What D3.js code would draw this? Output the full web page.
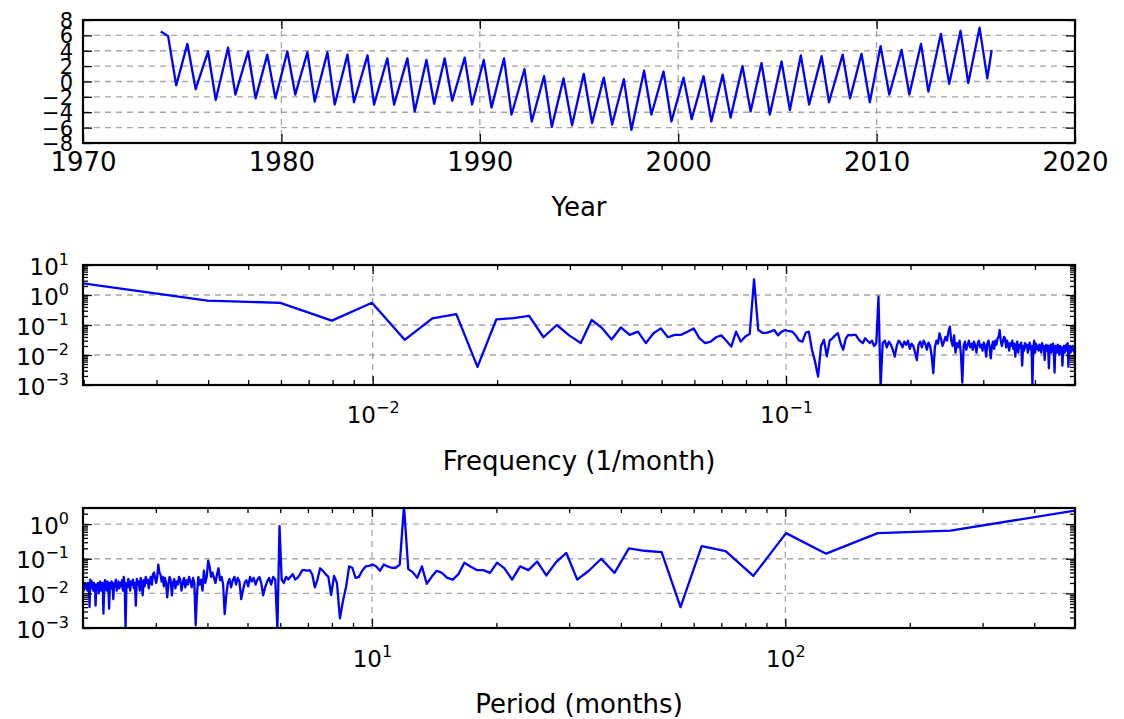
<!DOCTYPE html>
<html><head><meta charset="utf-8">
<script src="https://cdn.jsdelivr.net/npm/d3@7"></script>
<style>
body{margin:0;background:#fff}
svg{display:block}
text{font-family:"DejaVu Sans",sans-serif;fill:#000}
</style>
</head><body>
<svg id="c" width="1124" height="719"></svg>
<script>
// ---------------- data ----------------
const tsYear=[1973.92,1974.29,1974.7,1975.26,1975.68,1976.3,1976.69,1977.31,1977.68,1978.32,1978.7,1979.29,1979.7,1980.3,1980.7,1981.31,1981.68,1982.32,1982.69,1983.33,1983.66,1984.34,1984.67,1985.34,1985.68,1986.35,1986.72,1987.31,1987.7,1988.23,1988.61,1989.24,1989.61,1990.2,1990.59,1991.22,1991.6,1992.25,1992.62,1993.24,1993.63,1994.22,1994.65,1995.24,1995.66,1996.25,1996.67,1997.26,1997.64,1998.28,1998.65,1999.26,1999.66,2000.27,2000.68,2001.28,2001.67,2002.24,2002.64,2003.24,2003.65,2004.2,2004.62,2005.21,2005.63,2006.18,2006.6,2007.23,2007.6,2008.29,2008.66,2009.24,2009.66,2010.2,2010.64,2011.26,2011.65,2012.24,2012.61,2013.24,2013.66,2014.23,2014.62,2015.19,2015.58,2015.8];
const tsValue=[6.5,5.9,-0.5,4.9,-1.0,3.9,-2.4,4.4,-1.7,3.9,-2.2,3.5,-2.2,3.9,-1.7,3.8,-2.6,3.8,-3.0,3.5,-2.7,3.4,-3.0,3.0,-3.0,3.0,-3.9,2.8,-2.9,3.0,-2.5,3.1,-3.0,2.8,-3.4,3.0,-4.3,1.6,-5.2,0.7,-5.9,0.4,-5.7,1.0,-5.4,0.5,-5.6,0.3,-6.3,1.4,-4.3,1.3,-5.2,0.5,-4.9,0.7,-5.2,0.9,-4.7,2.0,-3.9,2.4,-4.3,2.6,-3.7,3.4,-3.0,3.3,-2.7,3.5,-2.2,3.6,-2.7,4.6,-1.7,4.1,-1.7,4.9,-1.3,6.2,-0.3,6.6,-0.2,7.0,0.4,4.1];

// spectrum: power at harmonic k = 1..251 (frequency k / nMonths)
const nMonths=502;
const specPower=[
2.45,0.65,0.55,0.14,0.55,0.032,0.166,0.23,0.004,0.155,
0.17,0.2,0.039,0.1,0.045,0.025,0.147,0.08,0.033,0.083,
0.047,0.06,0.025,0.053,0.077,0.039,0.047,0.047,0.06,0.077,
0.036,0.025,0.028,0.039,0.045,0.03,0.019,0.06,0.028,0.041,
0.05,3.3,0.068,0.055,0.055,0.06,0.068,0.045,0.06,0.068,
0.062,0.06,0.045,0.03,0.028,0.055,0.06,0.015,0.006,0.0019,
0.02,0.032,0.009,0.03,0.036,0.045,0.053,0.025,0.015,0.035,
0.047,0.045,0.047,0.047,0.035,0.028,0.025,0.036,0.03,0.025,
0.03,0.02,0.025,0.88,0.0009,
0.025,0.03,0.018,0.028,0.022,0.015,0.0088,0.02,0.03,0.025,
0.018,0.028,0.022,0.03,0.016,0.024,0.02,0.012,0.0068,0.022,
0.028,0.018,0.03,0.024,0.015,0.026,0.02,0.009,0.0025,0.018,
0.03,0.024,0.053,0.035,0.02,0.028,0.04,0.03,0.06,0.088,
0.03,0.02,0.045,0.012,0.025,0.018,0.03,0.01,0.0012,0.02,
0.028,0.015,0.022,0.03,0.018,0.024,0.015,0.028,0.02,0.012,
0.025,0.03,0.018,0.022,0.014,0.026,0.02,0.0088,0.024,0.03,
0.018,0.0077,0.02,0.028,0.016,0.03,0.022,0.035,0.04,0.068,
0.03,0.02,0.028,0.04,0.036,0.018,0.03,0.022,0.014,0.025,
0.02,0.03,0.016,0.024,0.0088,0.02,0.028,0.012,0.022,0.018,
0.026,0.0044,0.02,0.014,0.025,0.018,0.022,0.012,0.02,0.026,
0.015,0.02,0.0009,0.018,0.03,0.012,0.024,0.016,0.02,0.014,
0.022,0.018,0.012,0.025,0.016,0.02,0.0068,0.018,0.022,0.014,
0.02,0.0036,0.016,0.022,0.012,0.018,0.024,0.014,0.0026,0.02,
0.016,0.012,0.022,0.018,0.01,0.02,0.014,0.018,0.0044,0.016,
0.02,0.012,0.018,0.022,0.014,0.025,0.004,0.016,0.02,0.012,
0.018,0.014,0.02,0.016,0.012,0.015];

const yearTicks=[1970,1980,1990,2000,2010,2020];
const tsValueTicks=[-8,-6,-4,-2,0,2,4,6,8];
const freqTicks=[0.01,0.1];
const freqPowerTicks=[0.001,0.01,0.1,1,10];
const periodTicks=[10,100];
const periodPowerTicks=[0.001,0.01,0.1,1];

// ---------------- layout ----------------
const svg=d3.select("#c");
const L=83,R=1075;
const FS=23, SUPFS=16, LABFS=26;
const MAJ=9, MIN=5;
const blue="#0000ff";

function minorLog(domain){
  const out=[];
  const lo=Math.floor(Math.log10(domain[0])), hi=Math.ceil(Math.log10(domain[1]));
  for(let e=lo;e<=hi;e++) for(let m=2;m<=9;m++){const v=m*Math.pow(10,e); if(v>=domain[0]&&v<=domain[1]) out.push(v);}
  return out;
}
function sup(sel){
  sel.each(function(d){
    const t=d3.select(this); const e=Math.round(Math.log10(d));
    t.text(null);
    t.append("tspan").text("10");
    t.append("tspan").attr("dy",-10).attr("font-size",SUPFS).text(e<0?"\u2212"+(-e):String(e));
  });
}
function styleAxis(g){
  g.attr("font-family",null).attr("font-size",null);
  g.select(".domain").remove();
  g.selectAll(".tick line").attr("stroke","#000").attr("stroke-width",1.3);
  g.selectAll("text").attr("font-size",FS);
}

function panel(id,y0,y1,x,y,xMajor,yMajor,xMinor,yMinor,opts){
  const g=svg.append("g");
  const clipId="clip-"+id;
  svg.append("clipPath").attr("id",clipId).append("rect").attr("x",L).attr("y",y0).attr("width",R-L).attr("height",y1-y0);
  // grid
  const grid=g.append("g").attr("stroke","#a6a6a6").attr("stroke-width",1.3).attr("stroke-dasharray","6,5");
  grid.selectAll(".vg").data(xMajor).join("line").attr("x1",d=>x(d)).attr("x2",d=>x(d)).attr("y1",y0).attr("y2",y1);
  grid.selectAll(".hg").data(yMajor).join("line").attr("x1",L).attr("x2",R).attr("y1",d=>y(d)).attr("y2",d=>y(d));
  // line
  g.append("path").datum(opts.data).attr("clip-path",`url(#${clipId})`)
    .attr("fill","none").attr("stroke",blue).attr("stroke-width",2.3).attr("stroke-linejoin","round")
    .attr("d",d3.line().x(d=>x(d[0])).y(d=>y(d[1])));
  // axes (inward ticks)
  const b=g.append("g").attr("transform",`translate(0,${y1})`)
    .call(d3.axisBottom(x).tickValues(xMajor).tickSizeInner(-MAJ).tickSizeOuter(0).tickPadding(opts.xPad).tickFormat(opts.xFmt||null));
  styleAxis(b);
  if(opts.xSup) b.selectAll(".tick text").call(sup);
  else b.selectAll(".tick text").attr("font-size",opts.xFS||FS);
  const t=g.append("g").attr("transform",`translate(0,${y0})`)
    .call(d3.axisTop(x).tickValues(xMajor).tickSizeInner(-MAJ).tickSizeOuter(0).tickFormat(""));
  styleAxis(t);
  const l=g.append("g").attr("transform",`translate(${L},0)`)
    .call(d3.axisLeft(y).tickValues(yMajor).tickSizeInner(-MAJ).tickSizeOuter(0).tickPadding(opts.yPad).tickFormat(opts.yFmt||null));
  styleAxis(l);
  if(opts.ySup){ l.selectAll(".tick text").attr("dy",9).call(sup); }
  else l.selectAll(".tick text").attr("dy","0.36em").attr("font-size",opts.yFS||FS);
  const r=g.append("g").attr("transform",`translate(${R},0)`)
    .call(d3.axisRight(y).tickValues(yMajor).tickSizeInner(-MAJ).tickSizeOuter(0).tickFormat(""));
  styleAxis(r);
  if(xMinor.length){
    [[d3.axisBottom,y1],[d3.axisTop,y0]].forEach(([ax,yy])=>{
      const m=g.append("g").attr("transform",`translate(0,${yy})`).call(ax(x).tickValues(xMinor).tickSizeInner(-MIN).tickSizeOuter(0).tickFormat(""));
      styleAxis(m);
    });
  }
  if(yMinor.length){
    [[d3.axisLeft,L],[d3.axisRight,R]].forEach(([ax,xx])=>{
      const m=g.append("g").attr("transform",`translate(${xx},0)`).call(ax(y).tickValues(yMinor).tickSizeInner(-MIN).tickSizeOuter(0).tickFormat(""));
      styleAxis(m);
    });
  }
  // frame
  g.append("rect").attr("x",L).attr("y",y0).attr("width",R-L).attr("height",y1-y0)
    .attr("fill","none").attr("stroke","#000").attr("stroke-width",2.2);
  // x label
  g.append("text").attr("x",(L+R)/2).attr("y",opts.labelY).attr("text-anchor","middle").attr("font-size",LABFS).text(opts.label);
}

// ---- top: time series ----
{
  const x=d3.scaleLinear().domain([1970,2020]).range([L,R]);
  const y=d3.scaleLinear().domain([-8,8]).range([143,20]);
  panel("ts",20,143,x,y,yearTicks,tsValueTicks,[],[],{
    data:tsYear.map((d,i)=>[d,tsValue[i]]),
    xPad:10,yPad:10,xFmt:d3.format("d"),yFmt:d3.format("d"),xFS:26,yFS:21,
    label:"Year",labelY:216
  });
}
// ---- middle: frequency ----
const spec=specPower.map((p,i)=>({f:(i+1)/nMonths,per:nMonths/(i+1),p}));
{
  const x=d3.scaleLog().domain([1/nMonths,0.5]).range([L,R]);
  const yd=[0.001,10];
  const y=d3.scaleLog().domain(yd).range([385,265]);
  panel("fr",265,385,x,y,freqTicks,freqPowerTicks,minorLog([1/nMonths,0.5]),minorLog(yd),{
    data:spec.map(d=>[d.f,d.p]),
    xPad:22,yPad:14,xSup:true,ySup:true,
    label:"Frequency (1/month)",labelY:470
  });
}
// ---- bottom: period ----
{
  const x=d3.scaleLog().domain([2,nMonths]).range([L,R]);
  const yd=[0.001,2.92];
  const y=d3.scaleLog().domain(yd).range([628,508]);
  panel("pe",508,628,x,y,periodTicks,periodPowerTicks,minorLog([2,nMonths]),minorLog(yd),{
    data:spec.slice().reverse().map(d=>[d.per,d.p]),
    xPad:23,yPad:14,xSup:true,ySup:true,
    label:"Period (months)",labelY:713
  });
}
</script>
</body></html>
